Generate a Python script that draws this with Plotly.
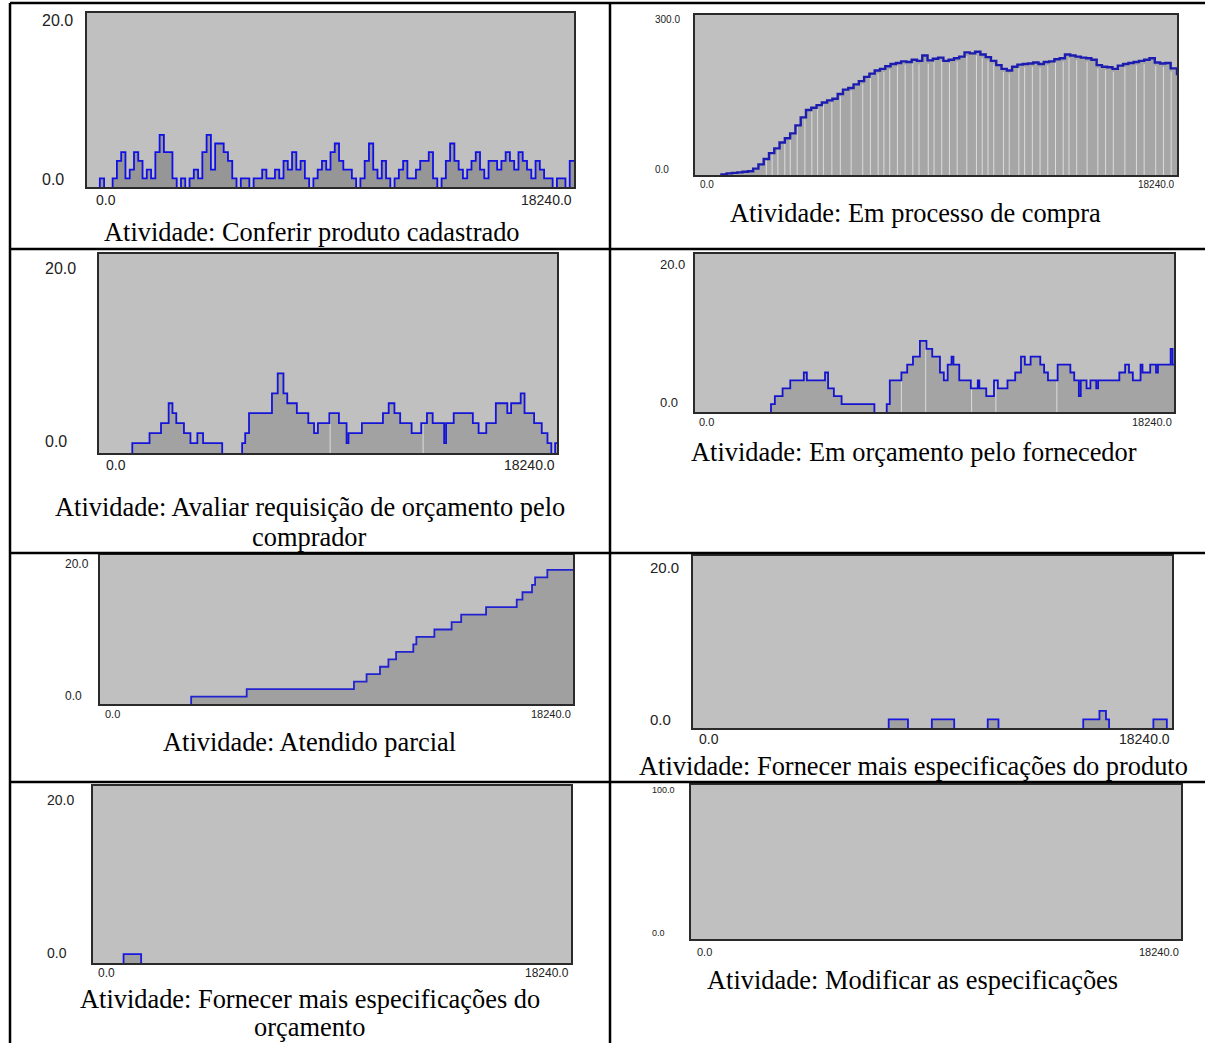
import plotly.graph_objects as go

W, H = 1205, 1043
T_END = 18240.0

# ---------------- data ----------------
# Conferir produto cadastrado: queue length sampled every 160 time units
conferir_step = 160
conferir_vals = [0, 0, 0, 1, 0, 0, 1, 3, 4, 1, 2, 4, 3, 1, 2, 1, 4, 6, 4, 4,
                 1, 0, 1, 0, 1, 2, 1, 4, 6, 2, 5, 5, 4, 3, 1, 0, 1, 1, 0, 1,
                 1, 2, 1, 1, 2, 1, 3, 2, 4, 2, 3, 1, 0, 1, 2, 3, 2, 4, 5, 3,
                 2, 2, 1, 0, 1, 3, 5, 2, 1, 3, 1, 0, 1, 2, 3, 1, 1, 2, 3, 3,
                 4, 1, 0, 1, 3, 5, 3, 2, 1, 2, 3, 4, 2, 1, 3, 3, 2, 3, 4, 3,
                 2, 4, 3, 2, 1, 3, 2, 1, 1, 0, 1, 1, 0, 3]

# Em processo de compra
compra_t = [0, 1000, 1200, 1400, 1600, 1800, 2000, 2200, 2400, 2600, 2800, 3000, 3200, 3400,
            3600, 3800, 4000, 4200, 4400, 4600, 4800, 5000, 5200, 5400, 5600, 5800, 6000,
            6200, 6400, 6600, 6800, 7000, 7200, 7400, 7600, 7800, 8000, 8200, 8400, 8600,
            8800, 9000, 9200, 9400, 9600, 9800, 10000, 10200, 10400, 10600, 10800, 11000,
            11200, 11400, 11600, 11800, 12000, 12200, 12400, 12600, 12800, 13000, 13200,
            13400, 13600, 13800, 14000, 14200, 14400, 14600, 14800, 15000, 15200, 15400,
            15600, 15800, 16000, 16200, 16400, 16600, 16800, 17000, 17200, 17400, 17600,
            17800, 18000, 18240]
compra_v = [0, 1, 3, 4, 5, 6, 7, 12, 20, 30, 41, 50, 61, 69,
            78, 93, 108, 122, 126, 131, 136, 140, 143, 152, 160, 163, 170,
            176, 184, 190, 196, 199, 204, 208, 210, 213, 212, 216, 214, 224,
            215, 218, 220, 214, 216, 219, 222, 230, 228, 231, 226, 221,
            214, 206, 199, 196, 203, 207, 208, 209, 211, 208, 212,
            213, 217, 219, 226, 224, 222, 220, 219, 216, 206, 203,
            202, 199, 205, 208, 210, 212, 214, 216, 219, 211, 209,
            210, 200, 187]
compra_gaps = [2699, 2918, 3137, 3399, 3604, 3866, 4158, 4421, 4640, 4858, 5179, 5500,
               5909, 6347, 6638, 6930, 7149, 7368, 7660, 7952, 8243, 8477, 8827, 9046,
               9338, 9629, 9921, 10286, 10651, 10870, 11088, 11307, 11672, 11891, 12256,
               12474, 12766, 13058, 13350, 13642, 13934, 14152, 14444, 14838, 15246,
               15538, 15830, 16268, 16705, 16997, 17435, 17727, 18019]

# Avaliar requisição de orçamento pelo comprador
avaliar_t = [0, 1326, 2012, 2469, 2774, 2926, 3078, 3383, 3642, 3917, 4145, 4907, 5700,
             5822, 5974, 6888, 7117, 7346, 7498, 7879, 8336, 8565, 8717, 9174, 9555, 9860,
             9936, 10470, 11308, 11537, 11765, 11994, 12451, 12832, 13061, 13289, 13746,
             13823, 14127, 14889, 15118, 15423, 15804, 16261, 16413, 16794, 16947, 17328,
             17633, 17861, 18014, 18166]
avaliar_v = [0, 1, 2, 3, 5, 4, 3, 2, 1, 2, 1, 0, 1,
             2, 4, 6, 8, 6, 5, 4, 3, 2, 3, 4, 3, 1,
             2, 3, 4, 5, 4, 3, 2, 3, 4, 3, 1,
             3, 4, 3, 2, 3, 5, 4, 5, 6, 4, 3,
             2, 1, 0, 1]
avaliar_gaps = [9205, 12908]

# Em orçamento pelo fornecedor
fornecedor_t = [0, 2894, 3041, 3335, 3628, 4143, 4260, 4951, 5068, 5288, 5582, 6831, 7301,
                7418, 7859, 8080, 8300, 8564, 8814, 9034, 9328, 9475, 9622, 9769, 9842,
                10063, 10503, 10768, 10827, 11091, 11385, 11532, 11899, 12193, 12413, 12560,
                12780, 13148, 13294, 13441, 13809, 14293, 14440, 14617, 14690, 14910, 15057,
                15278, 15351, 16159, 16379, 16526, 16673, 16967, 17040, 17334, 17555, 17628,
                18113, 18187]
fornecedor_v = [0, 1, 2, 3, 4, 5, 4, 5, 3, 2, 1, 0, 1,
                4, 5, 6, 7, 9, 8, 7, 5, 4, 6, 7, 6,
                4, 3, 4, 3, 2, 4, 3, 4, 5, 7, 6,
                7, 6, 5, 4, 6, 5, 4, 2, 4, 3, 4,
                3, 4, 5, 6, 5, 4, 6, 5, 6, 5, 6,
                8, 6]
fornecedor_gaps = [7859, 8785, 10533, 11458, 13779]

# Atendido parcial (cumulative)
parcial_t = [0, 3515, 5657, 9793, 10280, 10797, 11122, 11417, 12082, 12200, 12894, 13559,
             13928, 14888, 16070, 16291, 16660, 16779, 17251]
parcial_v = [0, 1, 2, 3, 4, 5, 6, 7, 8, 9, 10, 11,
             12, 13, 14, 15, 16, 17, 18]

# Fornecer mais especificações do produto
produto_t = [0, 7452, 8186, 9095, 9946, 11223, 11633, 14860, 15477, 15726, 15844, 17531, 18044]
produto_v = [0, 1, 0, 1, 0, 1, 0, 1, 2, 1, 0, 1, 0]

# Fornecer mais especificações do orçamento
orcamento_t = [0, 1166, 1837]
orcamento_v = [0, 1, 0]

# Modificar as especificações (no occurrences)
modificar_t = [0]
modificar_v = [0]

captions = [
    ["Atividade: Conferir produto cadastrado"],
    ["Atividade: Em processo de compra"],
    ["Atividade: Avaliar requisição de orçamento pelo", "comprador"],
    ["Atividade: Em orçamento pelo fornecedor"],
    ["Atividade: Atendido parcial"],
    ["Atividade: Fornecer mais especificações do produto"],
    ["Atividade: Fornecer mais especificações do", "orçamento"],
    ["Atividade: Modificar as especificações"],
]
y_top_labels = ["20.0", "300.0", "20.0", "20.0", "20.0", "20.0", "20.0", "100.0"]
y_max = [20, 300, 20, 20, 20, 20, 20, 100]
x_tick_labels = ["0.0", "18240.0"]

# ---------------- layout geometry (pixels) ----------------
# box: left, right, top, bottom
boxes = [
    (87, 574, 13, 187),
    (695, 1177, 15, 175),
    (99, 557, 254, 453),
    (695, 1174, 254, 412),
    (100, 573, 555, 704),
    (693, 1172, 556, 728),
    (93, 571, 786, 963),
    (691, 1181, 785, 939),
]
# y labels: left x, top-label y, zero-label y, font size
ylab = [
    (40, 21, 180, 16),
    (653, 20, 169, 10),
    (43, 268, 442, 16),
    (658, 264, 402, 13),
    (63, 564, 696, 12),
    (648, 567, 719, 15),
    (45, 800, 953, 14),
    (650, 790, 933, 9),
]
# x labels: "0.0" left x, y, font size
xlab = [
    (94, 200, 14),
    (698, 184, 10),
    (104, 465, 14),
    (697, 422, 11),
    (103, 714, 11),
    (697, 739, 14),
    (96, 973, 12),
    (695, 952, 11),
]
# caption centre x and line y positions
cap_pos = [
    (312, [232]),
    (915, [213]),
    (310, [507, 537]),
    (914, [452]),
    (310, [742]),
    (913, [766]),
    (310, [999, 1027]),
    (912, [980]),
]


def px(x):
    return x / W


def py(y):
    return 1 - y / H


def step_value(ts, vs, t):
    v = vs[0]
    for ti, vi in zip(ts, vs):
        if ti <= t:
            v = vi
    return v


def outline(ts, vs):
    """Step outline drawn only over the runs where the value is above zero."""
    xs, ys = [], []
    bounds = list(ts) + [T_END]
    in_run = False
    for i, v in enumerate(vs):
        t0 = bounds[i]
        if v > 0 and not in_run:
            xs += [t0]
            ys += [0]
            in_run = True
        if v > 0:
            xs.append(t0)
            ys.append(v)
        elif in_run:
            xs += [t0, None]
            ys += [0, None]
            in_run = False
    if in_run:
        xs.append(T_END)
        ys.append(vs[-1])
    return xs, ys


series = [
    ([i * conferir_step for i in range(len(conferir_vals))], conferir_vals, None),
    (compra_t, compra_v, compra_gaps),
    (avaliar_t, avaliar_v, avaliar_gaps),
    (fornecedor_t, fornecedor_v, fornecedor_gaps),
    (parcial_t, parcial_v, None),
    (produto_t, produto_v, None),
    (orcamento_t, orcamento_v, None),
    (modificar_t, modificar_v, None),
]

line_colors = ["#1010e6", "#1c1cb0", "#1414d8", "#1414d0", "#2222d0", "#1818e0", "#1818e0", "#1818e0"]
line_widths = [1.8, 2.4, 1.8, 1.8, 1.8, 1.8, 1.8, 1.8]
fills = ["#969696", "#a6a6a6", "#a2a2a2", "#a4a4a4", "#a0a0a0", "#a0a0a0", "#a0a0a0", "#a0a0a0"]

fig = go.Figure()
layout_axes = {}
annotations = []

for k, ((ts, vs, gaps), (L, R, T, B)) in enumerate(zip(series, boxes)):
    n = k + 1
    xa = "x" if n == 1 else f"x{n}"
    ya = "y" if n == 1 else f"y{n}"
    # filled area under the step curve
    fig.add_trace(go.Scatter(
        x=list(ts) + [T_END], y=list(vs) + [vs[-1]], xaxis=xa, yaxis=ya, mode="lines",
        line=dict(shape="hv", width=0, color=fills[k]),
        fill="tozeroy", fillcolor=fills[k], hoverinfo="skip", showlegend=False,
    ))
    if gaps:
        gx, gy = [], []
        for g in gaps:
            top = step_value(ts, vs, g) * 0.97
            gx += [g, g, None]
            gy += [0, top, None]
        fig.add_trace(go.Scatter(
            x=gx, y=gy, xaxis=xa, yaxis=ya, mode="lines",
            line=dict(color="#dcdcdc", width=1), hoverinfo="skip", showlegend=False,
        ))
    ox, oy = outline(ts, vs)
    if ox:
        fig.add_trace(go.Scatter(
            x=ox, y=oy, xaxis=xa, yaxis=ya, mode="lines", connectgaps=False,
            line=dict(shape="hv", color=line_colors[k], width=line_widths[k]),
            hoverinfo="skip", showlegend=False,
        ))
    axis_common = dict(showgrid=False, zeroline=False, showticklabels=False, ticks="",
                       showline=True, mirror=True, linecolor="#2a2a2a", linewidth=1.5)
    layout_axes["xaxis" if n == 1 else f"xaxis{n}"] = dict(
        domain=[px(L), px(R)], range=[0, T_END], anchor=ya, **axis_common)
    layout_axes["yaxis" if n == 1 else f"yaxis{n}"] = dict(
        domain=[py(B), py(T)], range=[0, y_max[k]], anchor=xa, **axis_common)

    # axis value labels
    lx, ty, zy, fs = ylab[k]
    annotations.append(dict(x=px(lx), y=py(ty), text=y_top_labels[k], xanchor="left",
                            yanchor="middle", font=dict(size=fs)))
    annotations.append(dict(x=px(lx), y=py(zy), text="0.0", xanchor="left",
                            yanchor="middle", font=dict(size=fs)))
    x0, xy, xfs = xlab[k]
    annotations.append(dict(x=px(x0), y=py(xy), text=x_tick_labels[0], xanchor="left",
                            yanchor="middle", font=dict(size=xfs)))
    annotations.append(dict(x=px(R), y=py(xy), text=x_tick_labels[1], xanchor="right",
                            yanchor="middle", font=dict(size=xfs)))
    # caption
    cx, cys = cap_pos[k]
    for line, cy in zip(captions[k], cys):
        annotations.append(dict(x=px(cx), y=py(cy), text=line, xanchor="center",
                                yanchor="middle",
                                font=dict(family="Liberation Serif", size=26.4, color="#000")))

for a in annotations:
    a.update(xref="paper", yref="paper", showarrow=False)
    a["font"].setdefault("family", "Liberation Sans")
    a["font"].setdefault("color", "#222")

# table rules
rule = dict(color="#000", width=2.5)
shapes = []
for y in [3, 249, 553, 782]:
    shapes.append(dict(type="line", xref="paper", yref="paper",
                       x0=px(10), x1=1, y0=py(y), y1=py(y), line=rule))
for x in [10, 610]:
    shapes.append(dict(type="line", xref="paper", yref="paper",
                       x0=px(x), x1=px(x), y0=py(3), y1=0, line=rule))

fig.update_layout(
    width=W, height=H, margin=dict(l=0, r=0, t=0, b=0),
    paper_bgcolor="white", plot_bgcolor="#c0c0c0",
    annotations=annotations, shapes=shapes, showlegend=False,
    **layout_axes,
)

fig.write_html("out.html")
